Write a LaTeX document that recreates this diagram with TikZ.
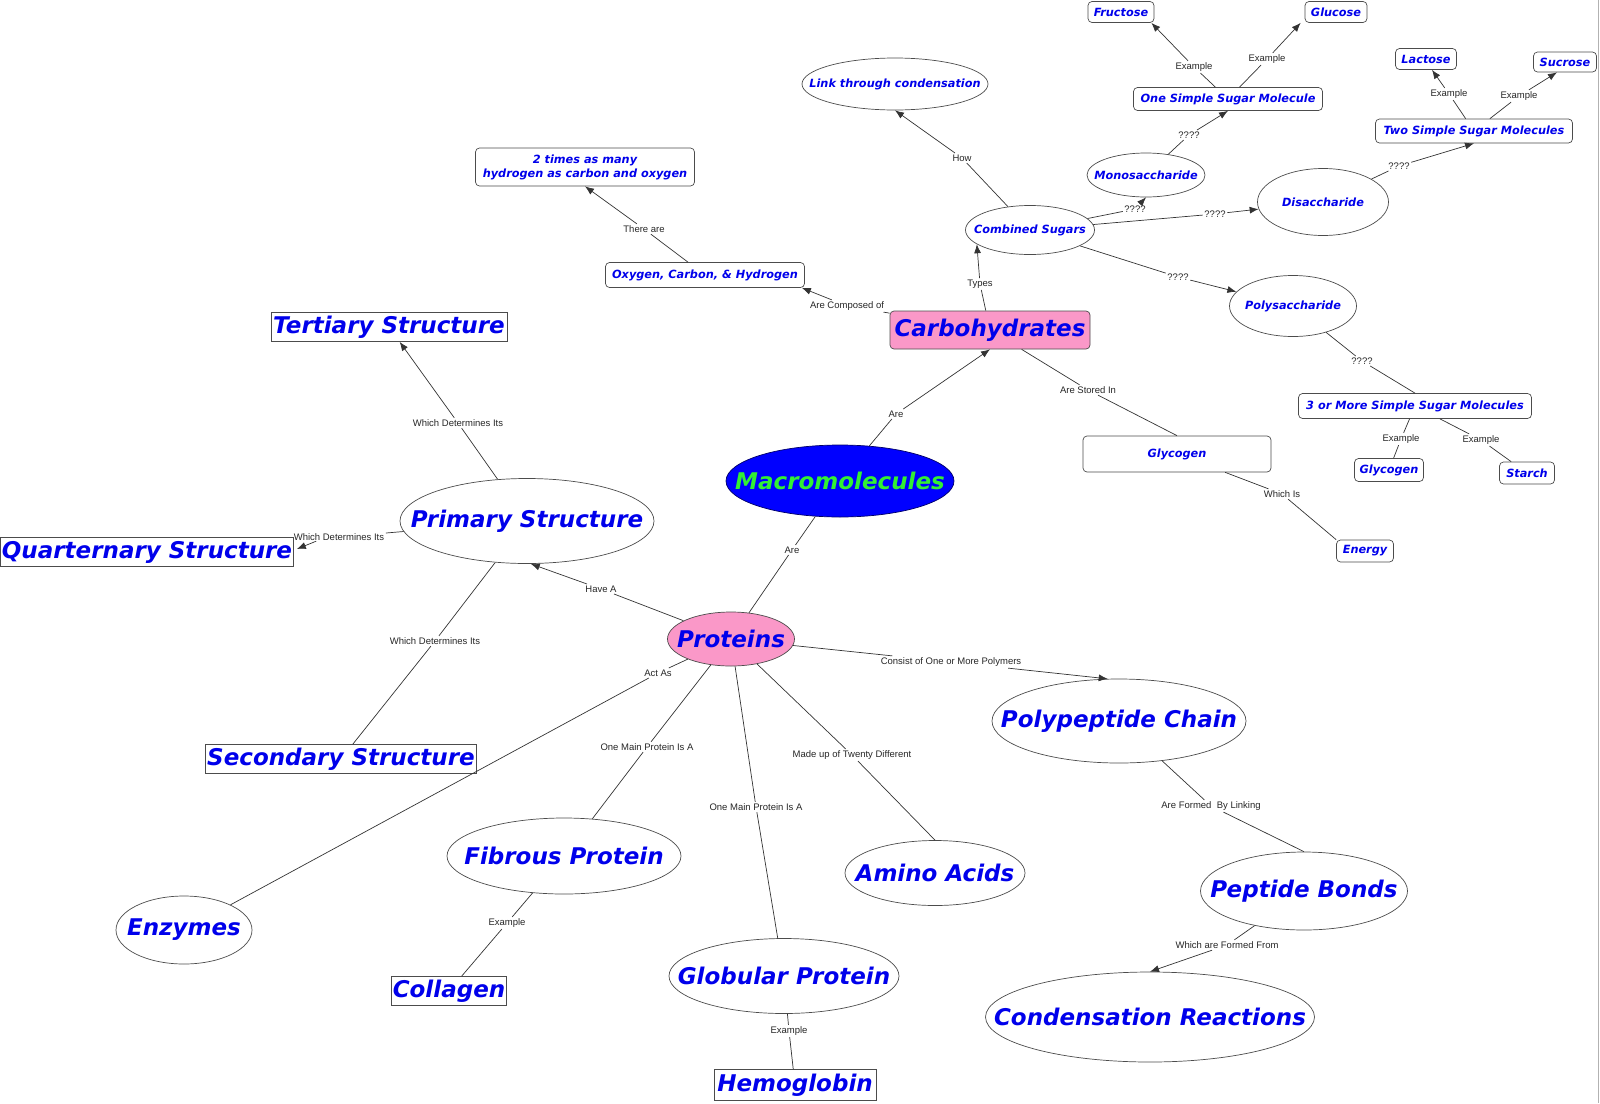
\documentclass[tikz,border=0pt]{standalone}
\usepackage{fontspec}
\usetikzlibrary{shapes.geometric,arrows.meta}
\newfontfamily\conceptfont{DejaVu Sans}
\newfontfamily\linkfont{Liberation Sans}
\definecolor{cmpink}{RGB}{250,152,200}
\definecolor{cmgreen}{RGB}{50,240,50}
\definecolor{cmblue}{RGB}{0,0,235}
\newcommand{\cbox}[1]{\makebox[0pt]{#1}}
\begin{document}
\begin{tikzpicture}[x=1pt,y=-1pt,
    concept/.style={draw=black!70,fill=white,text=cmblue,inner sep=0pt,line width=0.7pt},
    big/.style={font=\conceptfont\bfseries\itshape\fontsize{23}{27}\selectfont},
    small/.style={font=\conceptfont\bfseries\itshape\fontsize{11.3}{14}\selectfont},
    ell/.style={concept,ellipse},
    box/.style={concept,rectangle},
    rbox/.style={concept,rectangle,rounded corners=4pt}]
\tikzset{link/.style={font=\linkfont\fontsize{9.5}{11}\selectfont,inner sep=1.5pt,text=black!85},
         line/.style={draw=black!80,line width=0.7pt},
         arr/.style={line,-{Latex[length=9pt,width=7pt]}}}
\useasboundingbox (0,0) rectangle (1600,1103);
\draw[black!30,line width=1.5pt] (1598.5,0) -- (1598.5,1103);

% centre
\node[ell,fill=blue,draw=blue!40!black,text=cmgreen,big,minimum width=228,minimum height=72] (macro) at (840,481) {\cbox{Macromolecules}};
\node[rbox,fill=cmpink,big,minimum width=200,minimum height=38] (carbo) at (990,330) {\cbox{Carbohydrates}};
\node[ell,fill=cmpink,big,minimum width=127,minimum height=54] (prot) at (731,639) {\cbox{Proteins}};

% carbohydrates
\node[ell,small,minimum width=129,minimum height=49] (combined) at (1030,230) {\cbox{Combined Sugars}};
\node[ell,small,minimum width=186,minimum height=52] (condense) at (895,84) {\cbox{Link through condensation}};
\node[ell,small,minimum width=118,minimum height=44] (mono) at (1146,175) {\cbox{Monosaccharide}};
\node[ell,small,minimum width=131,minimum height=67] (di) at (1323,202) {\cbox{Disaccharide}};
\node[ell,small,minimum width=127,minimum height=61] (poly) at (1293,306) {\cbox{Polysaccharide}};
\node[rbox,small,minimum width=189,minimum height=23] (onesugar) at (1228,99) {\cbox{One Simple Sugar Molecule}};
\node[rbox,small,minimum width=66,minimum height=21] (fructose) at (1121,12) {\cbox{Fructose}};
\node[rbox,small,minimum width=62,minimum height=21] (glucose) at (1336,12) {\cbox{Glucose}};
\node[rbox,small,minimum width=197,minimum height=24] (twosugar) at (1474,131) {\cbox{Two Simple Sugar Molecules}};
\node[rbox,small,minimum width=61,minimum height=21] (lactose) at (1426,59) {\cbox{Lactose}};
\node[rbox,small,minimum width=63,minimum height=20] (sucrose) at (1565,62) {\cbox{Sucrose}};
\node[rbox,small,minimum width=233,minimum height=25] (threesugar) at (1415,406) {\cbox{3 or More Simple Sugar Molecules}};
\node[rbox,small,minimum width=69,minimum height=23] (glycosmall) at (1389,470) {\cbox{Glycogen}};
\node[rbox,small,minimum width=55,minimum height=22] (starch) at (1527,473) {\cbox{Starch}};
\node[rbox,small,minimum width=188,minimum height=36] (glycogen) at (1177,454) {\cbox{Glycogen}};
\node[rbox,small,minimum width=57,minimum height=22] (energy) at (1365,551) {\cbox{Energy}};
\node[rbox,small,align=center,minimum width=219,minimum height=38] (ratio) at (585,167) {2 times as many\\hydrogen as carbon and oxygen};
\node[rbox,small,minimum width=199,minimum height=25] (elements) at (705,275) {\cbox{Oxygen, Carbon, \& Hydrogen}};

% proteins
\node[box,big,minimum width=236,minimum height=29] (tertiary) at (389,327) {\cbox{Tertiary Structure}};
\node[ell,big,minimum width=254,minimum height=85] (primary) at (527,521) {\cbox{Primary Structure}};
\node[box,big,minimum width=293,minimum height=29] (quart) at (147,552) {\cbox{Quarternary Structure}};
\node[box,big,minimum width=271,minimum height=29] (secondary) at (341,759) {\cbox{Secondary Structure}};
\node[ell,big,minimum width=254,minimum height=84] (polypep) at (1119,721) {\cbox{Polypeptide Chain}};
\node[ell,big,minimum width=207,minimum height=78] (peptide) at (1304,891) {\cbox{Peptide Bonds}};
\node[ell,big,minimum width=329,minimum height=90] (condrx) at (1150,1017) {\cbox{Condensation Reactions}};
\node[ell,big,minimum width=180,minimum height=65] (amino) at (935,873) {\cbox{Amino Acids}};
\node[ell,big,minimum width=234,minimum height=76] (fibrous) at (564,856) {\cbox{Fibrous Protein}};
\node[ell,big,minimum width=136,minimum height=68] (enzymes) at (184,930) {\cbox{Enzymes}};
\node[box,big,minimum width=115,minimum height=29] (collagen) at (449,991) {\cbox{Collagen}};
\node[ell,big,minimum width=230,minimum height=75] (globular) at (784,976) {\cbox{Globular Protein}};
\node[box,big,minimum width=162,minimum height=31] (hemo) at (795,1085) {\cbox{Hemoglobin}};

% linking phrases
\node[link] (lAre1) at (896,414) {Are};
\node[link] (lAre2) at (792,550) {Are};
\node[link] (lTypes) at (980,284) {Types};
\node[link] (lComposed) at (847,306) {Are Composed of};
\node[link] (lThere) at (644,229) {There are};
\node[link] (lHow) at (962,158) {How};
\node[link] (lQ1) at (1135,209) {????};
\node[link] (lQ2) at (1215,214) {????};
\node[link] (lQ3) at (1178,277) {????};
\node[link] (lQ4) at (1189,135) {????};
\node[link] (lEx1) at (1194,67) {Example};
\node[link] (lEx2) at (1267,59) {Example};
\node[link] (lQ5) at (1399,166) {????};
\node[link] (lEx3) at (1449,94) {Example};
\node[link] (lEx4) at (1519,96) {Example};
\node[link] (lStored) at (1088,390) {Are Stored In};
\node[link] (lQ6) at (1362,361) {????};
\node[link] (lEx5) at (1401,439) {Example};
\node[link] (lEx6) at (1481,440) {Example};
\node[link] (lWhichIs) at (1282,494) {Which Is};
\node[link] (lDet1) at (458,423) {Which Determines Its};
\node[link] (lDet2) at (339,537) {Which Determines Its};
\node[link] (lDet3) at (435,641) {Which Determines Its};
\node[link] (lHave) at (601,589) {Have A};
\node[link] (lAct) at (658,673) {Act As};
\node[link] (lMain1) at (647,747) {One Main Protein Is A};
\node[link] (lMain2) at (756,807) {One Main Protein Is A};
\node[link] (lMade) at (852,755) {Made up of Twenty Different};
\node[link] (lConsist) at (951,662) {Consist of One or More Polymers};
\node[link] (lLinking) at (1211,806) {Are Formed~ By Linking};
\node[link] (lFormed) at (1227,945) {Which are Formed From};
\node[link] (lEx7) at (507,923) {Example};
\node[link] (lEx8) at (789,1031) {Example};

% connectors
\draw[line] (macro) -- (lAre1); \draw[arr] (lAre1) -- (carbo.south);
\draw[line] (macro) -- (lAre2); \draw[line] (lAre2) -- (prot);
\draw[line] (carbo) -- (lTypes); \draw[arr] (lTypes) -- (combined.195);
\draw[line] (carbo) -- (lComposed); \draw[arr] (lComposed) -- ([xshift=-3pt]elements.south east);
\draw[line] (elements) -- (lThere); \draw[arr] (lThere) -- (ratio.south);
\draw[line] (combined) -- (lHow); \draw[arr] (lHow) -- (condense.south);
\draw[line] (combined) -- (lQ1); \draw[arr] (lQ1) -- (mono.south);
\draw[line] (combined) -- (lQ2); \draw[arr] (lQ2) -- (di);
\draw[line] (combined) -- (lQ3); \draw[arr] (lQ3) -- (poly);
\draw[line] (mono) -- (lQ4); \draw[arr] (lQ4) -- (onesugar.south);
\draw[line] (onesugar) -- (lEx1); \draw[arr] (lEx1) -- ([xshift=-3pt]fructose.south east);
\draw[line] (onesugar) -- (lEx2); \draw[arr] (lEx2) -- ([xshift=-4pt]glucose.south west);
\draw[line] (di) -- (lQ5); \draw[arr] (lQ5) -- (twosugar.south);
\draw[line] (twosugar) -- (lEx3); \draw[arr] (lEx3) -- ([xshift=6pt]lactose.south);
\draw[line] (twosugar) -- (lEx4); \draw[arr] (lEx4) -- ([xshift=-8pt]sucrose.south);
\draw[line] (carbo) -- (lStored); \draw[line] (lStored) -- (glycogen.north);
\draw[line] (poly) -- (lQ6); \draw[line] (lQ6) -- (threesugar.north);
\draw[line] (threesugar) -- (lEx5); \draw[line] (lEx5) -- (glycosmall);
\draw[line] (threesugar) -- (lEx6); \draw[line] (lEx6) -- (starch);
\draw[line] (glycogen) -- (lWhichIs); \draw[line] (lWhichIs) -- (energy.north west);
\draw[line] (primary) -- (lDet1); \draw[arr] (lDet1) -- (tertiary);
\draw[line] (primary) -- (lDet2); \draw[arr] ([xshift=24pt,yshift=1pt]lDet2.south west) -- ([xshift=3pt,yshift=3pt]quart.east);
\draw[line] (primary) -- (lDet3); \draw[line] (lDet3) -- (secondary);
\draw[line] (prot) -- (lHave); \draw[arr] (lHave) -- (primary.-85);
\draw[line] (prot) -- (lAct); \draw[line] (lAct) -- (enzymes);
\draw[line] (prot) -- (lMain1); \draw[line] (lMain1) -- (fibrous);
\draw[line] (prot) -- (lMain2); \draw[line] (lMain2) -- (globular);
\draw[line] (prot) -- (lMade); \draw[line] (lMade) -- (amino.north);
\draw[line] (prot) -- (lConsist); \draw[arr] (lConsist) -- (polypep.105);
\draw[line] (polypep) -- (lLinking); \draw[line] (lLinking) -- (peptide.north);
\draw[line] (peptide) -- (lFormed); \draw[arr] (lFormed) -- (condrx.north);
\draw[line] (fibrous) -- (lEx7); \draw[line] (lEx7) -- (collagen);
\draw[line] (globular) -- (lEx8); \draw[line] (lEx8) -- (hemo);
\end{tikzpicture}
\end{document}
